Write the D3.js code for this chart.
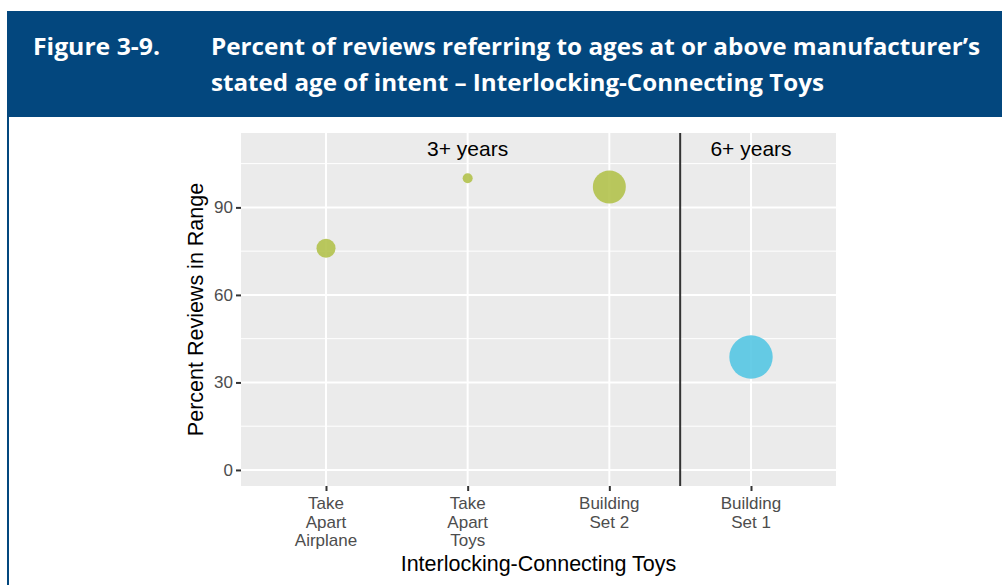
<!DOCTYPE html>
<html>
<head>
<meta charset="utf-8">
<script src="https://cdn.jsdelivr.net/npm/d3@7"></script>
<style>
  body { margin: 0; background: #fff; }
  svg { display: block; }
</style>
</head>
<body>
<div id="chart"></div>
<script>
// data
const toys = ["Take Apart Airplane", "Take Apart Toys", "Building Set 2", "Building Set 1"];
const tickLabels = [["Take", "Apart", "Airplane"], ["Take", "Apart", "Toys"], ["Building", "Set 2"], ["Building", "Set 1"]];
const percentInRange = [76, 100, 97, 38.7];
const reviewCounts = [40, 11, 120, 208];
const ageGroup = ["3+", "3+", "3+", "6+"];
const yTicks = [0, 30, 60, 90];
const groupLabels = [{ text: "3+ years", toy: "Take Apart Toys" }, { text: "6+ years", toy: "Building Set 1" }];
const titleNumber = "Figure 3-9.";
const titleLines = ["Percent of reviews referring to ages at or above manufacturer\u2019s",
                    "stated age of intent \u2013 Interlocking-Connecting Toys"];

const data = toys.map((t, i) => ({
  toy: t, pct: percentInRange[i], n: reviewCounts[i], group: ageGroup[i], label: tickLabels[i]
}));

const width = 1002, height = 585;
const panel = { left: 241, right: 836, top: 133, bottom: 486 };
const plotFont = "'Liberation Sans', Arial, sans-serif";

const svg = d3.select("#chart").append("svg")
  .attr("width", width)
  .attr("height", height);

// header box
svg.append("rect")
  .attr("x", 7).attr("y", 11)
  .attr("width", width - 7).attr("height", 106)
  .attr("fill", "#03477e");
svg.append("line")
  .attr("x1", 8).attr("x2", 8)
  .attr("y1", 11).attr("y2", height)
  .attr("stroke", "#03477e")
  .attr("stroke-width", 2);

const titleFont = "'Open Sans', sans-serif";
svg.append("text")
  .attr("x", 33).attr("y", 55)
  .attr("font-family", titleFont)
  .attr("font-weight", 700)
  .attr("font-size", 24)
  .attr("fill", "#fff")
  .attr("textLength", 127)
  .attr("lengthAdjust", "spacingAndGlyphs")
  .text(titleNumber);

const lineWidths = [769, 613];
titleLines.forEach((t, i) => {
  svg.append("text")
    .attr("x", 211).attr("y", 55 + i * 36)
    .attr("font-family", titleFont)
    .attr("font-weight", 700)
    .attr("font-size", 24)
    .attr("fill", "#fff")
    .attr("textLength", lineWidths[i])
    .attr("lengthAdjust", "spacingAndGlyphs")
    .text(t);
});

// scales
const xScale = d3.scalePoint()
  .domain(toys)
  .range([panel.left, panel.right])
  .padding(0.6);

const yScale = d3.scaleLinear()
  .domain([-5.5, 115.5])
  .range([panel.bottom, panel.top]);

const rScale = d3.scaleSqrt()
  .domain([0, d3.max(reviewCounts)])
  .range([0, 21.7]);

const color = d3.scaleOrdinal()
  .domain(["3+", "6+"])
  .range(["#b2c24c", "#55c7e3"]);

// panel background + grid
svg.append("rect")
  .attr("x", panel.left).attr("y", panel.top)
  .attr("width", panel.right - panel.left)
  .attr("height", panel.bottom - panel.top)
  .attr("fill", "#ebebeb");

const minorTicks = [15, 45, 75, 105];
svg.append("g")
  .selectAll("line")
  .data(minorTicks)
  .join("line")
  .attr("x1", panel.left).attr("x2", panel.right)
  .attr("y1", d => yScale(d)).attr("y2", d => yScale(d))
  .attr("stroke", "#fff")
  .attr("stroke-width", 1);

svg.append("g")
  .selectAll("line")
  .data(yTicks)
  .join("line")
  .attr("x1", panel.left).attr("x2", panel.right)
  .attr("y1", d => yScale(d)).attr("y2", d => yScale(d))
  .attr("stroke", "#fff")
  .attr("stroke-width", 2);

svg.append("g")
  .selectAll("line")
  .data(toys)
  .join("line")
  .attr("x1", d => xScale(d)).attr("x2", d => xScale(d))
  .attr("y1", panel.top).attr("y2", panel.bottom)
  .attr("stroke", "#fff")
  .attr("stroke-width", 2);

// divider between age groups
const step = xScale.step();
const dividerX = xScale("Building Set 2") + step / 2;
svg.append("line")
  .attr("x1", dividerX).attr("x2", dividerX)
  .attr("y1", panel.top).attr("y2", panel.bottom)
  .attr("stroke", "#333")
  .attr("stroke-width", 2);

// bubbles
svg.append("g")
  .selectAll("circle")
  .data(data)
  .join("circle")
  .attr("cx", d => xScale(d.toy))
  .attr("cy", d => yScale(d.pct))
  .attr("r", d => rScale(d.n))
  .attr("fill", d => color(d.group))
  .attr("fill-opacity", 0.9);

// group labels
svg.append("g")
  .selectAll("text")
  .data(groupLabels)
  .join("text")
  .attr("x", d => xScale(d.toy))
  .attr("y", yScale(110))
  .attr("dy", "0.35em")
  .attr("text-anchor", "middle")
  .attr("font-family", plotFont)
  .attr("font-size", 21)
  .attr("fill", "#000")
  .text(d => d.text);

// y axis
const yAxis = svg.append("g")
  .attr("transform", `translate(${panel.left},0)`)
  .call(d3.axisLeft(yScale).tickValues(yTicks).tickSize(5).tickPadding(3));
yAxis.select(".domain").remove();
yAxis.selectAll(".tick line").attr("stroke", "#333").attr("stroke-width", 2);
yAxis.selectAll(".tick text")
  .attr("font-family", plotFont)
  .attr("font-size", 17)
  .attr("fill", "#4d4d4d");

// x axis
const xAxis = svg.append("g")
  .attr("transform", `translate(0,${panel.bottom})`)
  .call(d3.axisBottom(xScale).tickSize(5).tickFormat(""));
xAxis.select(".domain").remove();
xAxis.selectAll(".tick line").attr("stroke", "#333").attr("stroke-width", 2);

const xLabels = svg.append("g")
  .selectAll("text")
  .data(data)
  .join("text")
  .attr("x", d => xScale(d.toy))
  .attr("y", panel.bottom + 23)
  .attr("text-anchor", "middle")
  .attr("font-family", plotFont)
  .attr("font-size", 17)
  .attr("fill", "#4d4d4d");
xLabels.selectAll("tspan")
  .data(d => d.label)
  .join("tspan")
  .attr("x", function() { return d3.select(this.parentNode).attr("x"); })
  .attr("dy", (d, i) => i === 0 ? 0 : 18.5)
  .text(d => d);

// axis titles
svg.append("text")
  .attr("x", (panel.left + panel.right) / 2)
  .attr("y", 571)
  .attr("text-anchor", "middle")
  .attr("font-family", plotFont)
  .attr("font-size", 21.5)
  .attr("fill", "#000")
  .text("Interlocking-Connecting Toys");

svg.append("text")
  .attr("transform", `translate(203,${(panel.top + panel.bottom) / 2}) rotate(-90)`)
  .attr("text-anchor", "middle")
  .attr("font-family", plotFont)
  .attr("font-size", 21.5)
  .attr("fill", "#000")
  .text("Percent Reviews in Range");
</script>
</body>
</html>
